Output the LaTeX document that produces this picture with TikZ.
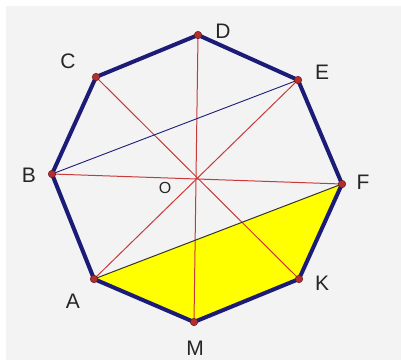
\documentclass[tikz,border=0pt]{standalone}
\usepackage{fontspec}
\setmainfont{Liberation Sans}
\begin{document}
\begin{tikzpicture}[x=1pt,y=-1pt,
  side/.style={draw=octblue,line width=4pt,line join=round},
  chord/.style={draw=chordred,line width=1pt},
  vtx/.style={circle,fill=vtxred,draw=vtxdark,line width=0.5pt,inner sep=0pt,minimum size=7.5pt},
  lbl/.style={font=\fontsize{21}{21}\selectfont,text=black!85}]
\definecolor{octblue}{HTML}{1C1C78}
\definecolor{chordred}{HTML}{C83A3A}
\definecolor{vtxred}{HTML}{B03030}
\definecolor{vtxdark}{HTML}{6A1515}
\definecolor{bg}{HTML}{F3F3F3}
\definecolor{yell}{HTML}{FFFF00}
\useasboundingbox (0,0) rectangle (401,360);
\fill[white] (0,0) rectangle (401,360);
\fill[bg] (6,6) rectangle (401,360);
\coordinate (A) at (94,279);
\coordinate (B) at (52,174);
\coordinate (C) at (96,77);
\coordinate (D) at (198,35);
\coordinate (E) at (298,80);
\coordinate (F) at (342,184);
\coordinate (K) at (299,279);
\coordinate (M) at (194,322);
\coordinate (O) at (195,179);
\fill[yell] (A) -- (F) -- (K) -- (M) -- cycle;
\draw[chord] (C) -- (K);
\draw[chord] (D) -- (M);
\draw[chord] (E) -- (A);
\draw[chord] (B) -- (F);
\draw[draw=octblue,line width=0.9pt] (B) -- (E);
\draw[draw=black!80,line width=1pt] (A) -- (F);
\draw[side] (A) -- (B) -- (C) -- (D) -- (E) -- (F) -- (K) -- (M) -- cycle;
\foreach \p in {A,B,C,D,E,F,K,M} \node[vtx] (n\p) at (\p) {};
\node[lbl] (lA) at (73,301) {A};
\node[lbl] (lB) at (29,175) {B};
\node[lbl] (lC) at (68,61) {C};
\node[lbl] (lD) at (223,31) {D};
\node[lbl] (lE) at (322,72) {E};
\node[lbl] (lF) at (363,182) {F};
\node[lbl] (lK) at (322,283) {K};
\node[lbl] (lM) at (195,348) {M};
\node[font=\fontsize{16}{16}\selectfont,text=black!85] (lO) at (165,188) {O};
\end{tikzpicture}
\end{document}
